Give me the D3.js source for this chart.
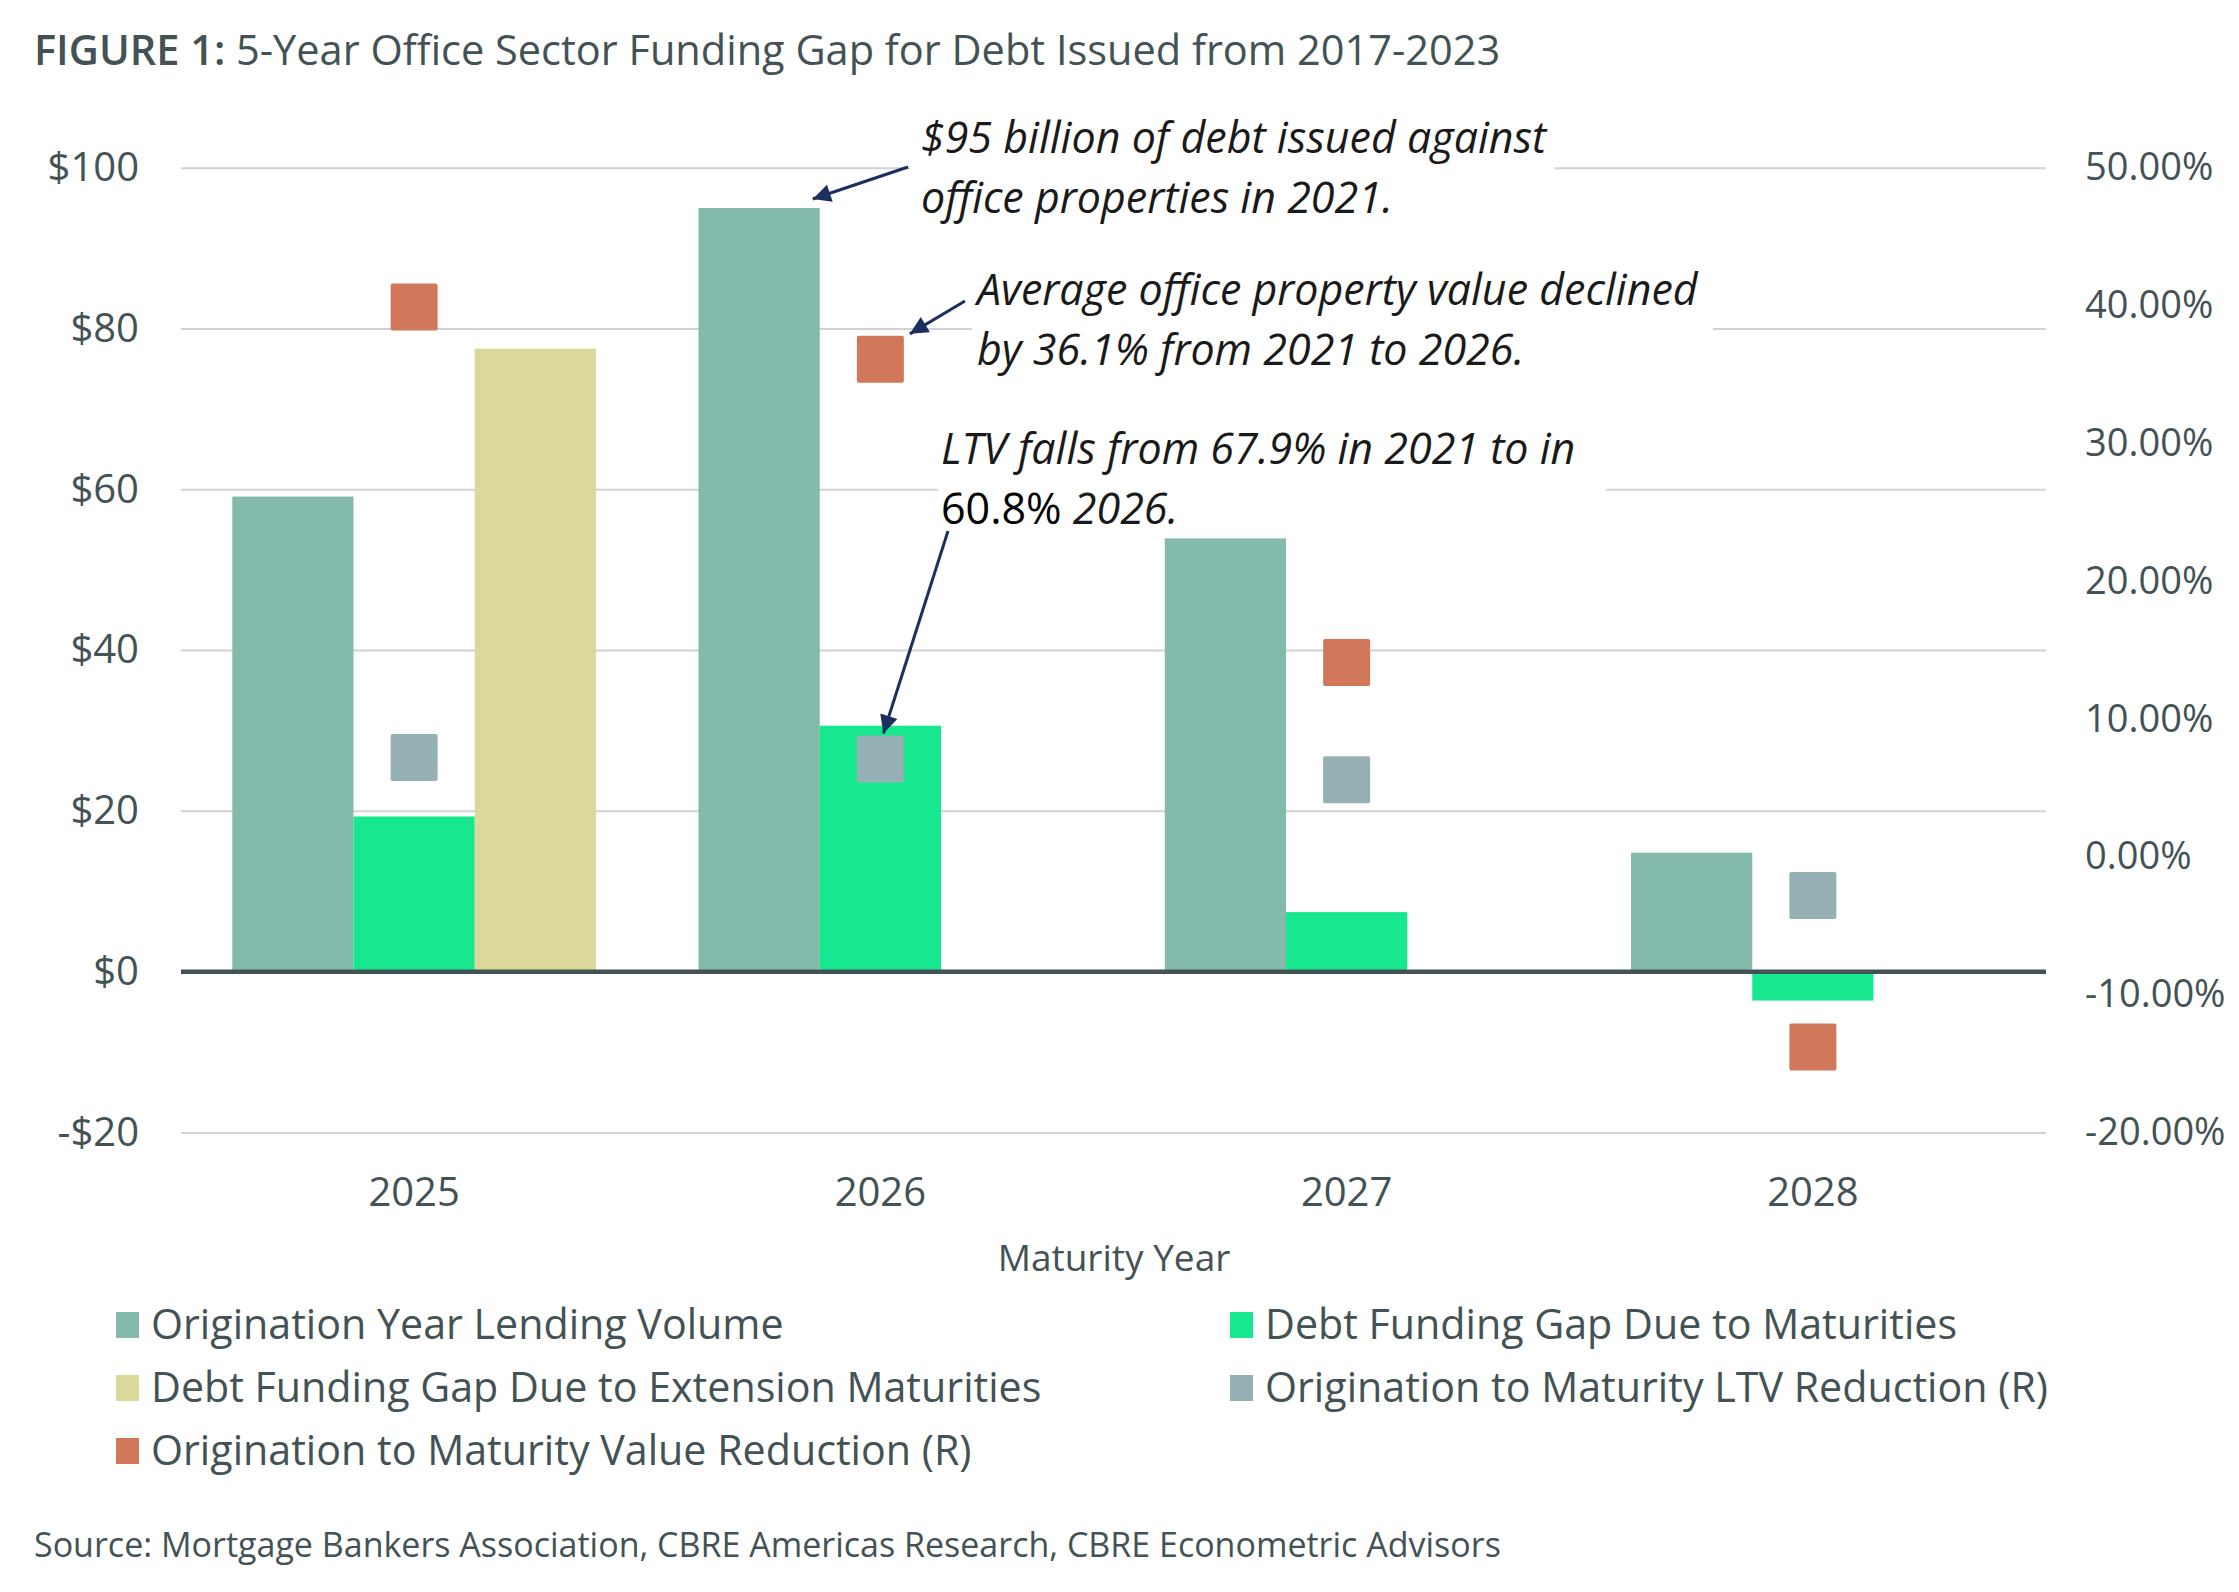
<!DOCTYPE html>
<html>
<head>
<meta charset="utf-8">
<script src="https://cdn.jsdelivr.net/npm/d3@7"></script>
<style>
  body { margin: 0; background: #fff; }
  svg text { font-family: "Open Sans", Lato, sans-serif; fill: #435254; }
</style>
</head>
<body>
<svg id="chart" width="2239" height="1592"></svg>
<script>
// data
var years = ["2025", "2026", "2027", "2028"];
var lendingVolume = [59.1, 95.0, 53.9, 14.8];
var gapMaturities = [19.3, 30.6, 7.4, -3.6];
var gapExtension = [77.5, null, null, null];
var ltvReduction = [7.2, 7.1, 5.6, -2.8];
var valueReduction = [39.9, 36.1, 14.1, -13.8];
var leftTicks = [-20, 0, 20, 40, 60, 80, 100];
var rightTicks = [-20, -10, 0, 10, 20, 30, 40, 50];

var barSeries = [
	{key: "lend", name: "Origination Year Lending Volume", values: lendingVolume, color: "#83BAAC"},
	{key: "gapMat", name: "Debt Funding Gap Due to Maturities", values: gapMaturities, color: "#17E88F"},
	{key: "gapExt", name: "Debt Funding Gap Due to Extension Maturities", values: gapExtension, color: "#DBD99A"}
];
var markerSeries = [
	{key: "ltv", name: "Origination to Maturity LTV Reduction (R)", values: ltvReduction, color: "#96B1B4"},
	{key: "val", name: "Origination to Maturity Value Reduction (R)", values: valueReduction, color: "#D2785A"}
];

var svg = d3.select("#chart");
var plotL = 181, plotR = 2046, plotT = 167.8, plotB = 1132.4;

var x0 = d3.scaleBand().domain(years).range([plotL, plotR]).padding(0);
var x1 = d3.scaleBand().domain(barSeries.map(function(s){ return s.key; }))
	.range([0, x0.bandwidth()]).paddingInner(0).paddingOuter(0.423);
var yL = d3.scaleLinear().domain([-20, 100]).range([plotB, plotT]);
var yR = d3.scaleLinear().domain([-20, 50]).range([plotB, plotT]);

// title
var title = svg.append("text").attr("x", 34).attr("y", 65).style("font-size", "41.5px");
title.append("tspan").style("font-weight", "600").text("FIGURE 1:");
title.append("tspan").text(" 5-Year Office Sector Funding Gap for Debt Issued from 2017-2023");

// gridlines
var grid = svg.append("g").attr("transform", "translate(" + plotL + ",0)")
	.call(d3.axisLeft(yL).tickValues(leftTicks).tickSize(-(plotR - plotL)).tickFormat(""));
grid.select(".domain").remove();
grid.selectAll("line").attr("stroke", "#D0D3D4").attr("stroke-width", 2);

// left axis labels
var axL = svg.append("g").attr("transform", "translate(" + plotL + ",0)")
	.call(d3.axisLeft(yL).tickValues(leftTicks).tickSize(0).tickPadding(42)
		.tickFormat(function(d){ return (d < 0 ? "-$" : "$") + Math.abs(d); }));
axL.select(".domain").remove();
axL.selectAll("text").style("font-size", "40px").attr("fill", "#435254");

// right axis labels
var axR = svg.append("g").attr("transform", "translate(" + plotR + ",0)")
	.call(d3.axisRight(yR).tickValues(rightTicks).tickSize(0).tickPadding(39)
		.tickFormat(function(d){ return d.toFixed(2) + "%"; }));
axR.select(".domain").remove();
axR.selectAll("text").style("font-size", "38px").attr("fill", "#435254");

// annotation background boxes (cover gridlines)
var notes = [
	{x: 921, y: 153, boxL: 910, boxR: 1555, lines: [["$95 billion of debt issued against"], ["office properties in 2021."]]},
	{x: 977, y: 305, boxL: 972, boxR: 1713, lines: [["Average office property value declined"], ["by 36.1% from 2021 to 2026."]]},
	{x: 941, y: 464, boxL: 938, boxR: 1606, lines: [["LTV falls from 67.9% in 2021 to in"], ["60.8%", " 2026."]]}
];
notes.forEach(function(n){
	svg.append("rect").attr("x", n.boxL).attr("y", n.y - 45)
		.attr("width", n.boxR - n.boxL).attr("height", 118).attr("fill", "#fff");
});

// bars
var groups = svg.selectAll(".year").data(years).enter().append("g")
	.attr("transform", function(d){ return "translate(" + x0(d) + ",0)"; });
groups.selectAll("rect")
	.data(function(d, i){
		return barSeries.filter(function(s){ return s.values[i] !== null; })
			.map(function(s){ return {key: s.key, v: s.values[i], color: s.color}; });
	})
	.enter().append("rect")
	.attr("x", function(d){ return x1(d.key); })
	.attr("width", x1.bandwidth())
	.attr("y", function(d){ return yL(Math.max(0, d.v)); })
	.attr("height", function(d){ return Math.abs(yL(d.v) - yL(0)); })
	.attr("fill", function(d){ return d.color; });

// zero line
svg.append("line").attr("x1", plotL).attr("x2", plotR).attr("y1", yL(0)).attr("y2", yL(0))
	.attr("stroke", "#435254").attr("stroke-width", 4.5);

// square markers on the right axis
var msize = 47;
markerSeries.forEach(function(s){
	svg.selectAll(".m-" + s.key).data(s.values).enter().append("rect")
		.attr("class", "m-" + s.key)
		.attr("x", function(d, i){ return x0(years[i]) + x0.bandwidth() / 2 - msize / 2; })
		.attr("y", function(d){ return yR(d) - msize / 2; })
		.attr("width", msize).attr("height", msize).attr("rx", 2)
		.attr("fill", s.color);
});

// x labels
svg.selectAll(".xl").data(years).enter().append("text")
	.attr("x", function(d){ return x0(d) + x0.bandwidth() / 2; })
	.attr("y", 1206).attr("text-anchor", "middle").style("font-size", "40px")
	.text(function(d){ return d; });
svg.append("text").attr("x", 1114).attr("y", 1271).attr("text-anchor", "middle")
	.style("font-size", "37px").text("Maturity Year");

// annotation text
notes.forEach(function(n){
	n.lines.forEach(function(parts, li){
		var t = svg.append("text").attr("x", n.x).attr("y", n.y + li * 60)
			.style("font-size", "43px").style("font-style", "italic").attr("fill", "#1a1a1a");
		parts.forEach(function(p, pi){
			var ts = t.append("tspan").text(p).attr("fill", "#1a1a1a");
			if (parts.length > 1 && pi === 0) ts.style("font-style", "normal").attr("fill", "#000");
		});
	});
});

// arrows
var defs = svg.append("defs");
defs.append("marker").attr("id", "head").attr("viewBox", "0 0 10 10")
	.attr("refX", 10).attr("refY", 5).attr("markerWidth", 26).attr("markerHeight", 18)
	.attr("markerUnits", "userSpaceOnUse").attr("orient", "auto")
	.append("path").attr("d", "M0,0 L10,5 L0,10 z").attr("fill", "#1C2F5E");
var c26 = x0("2026");
var arrows = [
	{x1: 908, y1: 167, x2: c26 + x1("lend") + x1.bandwidth() - 7, y2: yL(lendingVolume[1]) - 9},
	{x1: 965, y1: 301, x2: c26 + x0.bandwidth() / 2 + msize / 2 + 6, y2: yR(valueReduction[1]) - msize / 2 - 2},
	{x1: 948, y1: 531, x2: c26 + x0.bandwidth() / 2 + 3, y2: yR(ltvReduction[1]) - msize / 2 - 2}
];
arrows.forEach(function(a){
	svg.append("line").attr("x1", a.x1).attr("y1", a.y1).attr("x2", a.x2).attr("y2", a.y2)
		.attr("stroke", "#1C2F5E").attr("stroke-width", 3).attr("marker-end", "url(#head)");
});

// legend
var legendItems = [
	{s: barSeries[0], col: 0, row: 0}, {s: barSeries[1], col: 1, row: 0},
	{s: barSeries[2], col: 0, row: 1}, {s: markerSeries[0], col: 1, row: 1},
	{s: markerSeries[1], col: 0, row: 2}
];
var colX = [116, 1230], rowY = [1325, 1388, 1451];
legendItems.forEach(function(it){
	var lx = colX[it.col], ly = rowY[it.row];
	svg.append("rect").attr("x", lx).attr("y", ly - 13).attr("width", 23).attr("height", 26)
		.attr("fill", it.s.color);
	svg.append("text").attr("x", lx + 35).attr("y", ly + 14).style("font-size", "41.2px").text(it.s.name);
});

// source
svg.append("text").attr("x", 34).attr("y", 1557).style("font-size", "34px")
	.text("Source: Mortgage Bankers Association, CBRE Americas Research, CBRE Econometric Advisors");
</script>
</body>
</html>
